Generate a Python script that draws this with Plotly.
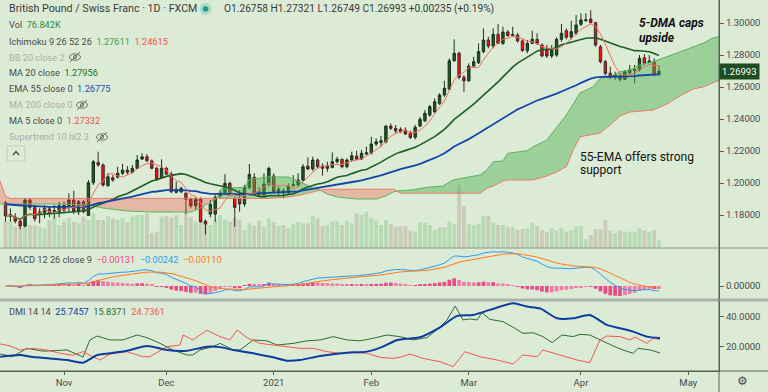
import numpy as np
import pandas as pd
import plotly.graph_objects as go

# ---------------- data ----------------
month_ticks = [12, 33, 55, 75, 95, 118, 140]
month_labels = ["Nov", "Dec", "2021", "Feb", "Mar", "Apr", "May"]

open_ = [1.1877, 1.1794, 1.1786, 1.1762, 1.1731, 1.1894, 1.1846, 1.1811, 1.1814, 1.1838,
         1.1822, 1.1823, 1.1861, 1.1858, 1.1894, 1.1821, 1.1883, 1.1798, 1.2002, 1.2129,
         1.2113, 1.1983, 1.2033, 1.2036, 1.2061, 1.2081, 1.2067, 1.2092, 1.2150, 1.2164,
         1.2138, 1.2092, 1.2033, 1.2092, 1.2056, 1.1942, 1.1946, 1.1936, 1.1898, 1.1858,
         1.1898, 1.1762, 1.1806, 1.1806, 1.1919, 1.1939, 1.1998, 1.1904, 1.1904, 1.1869,
         1.1973, 1.2036, 1.1946, 1.1925, 1.1994, 1.2044, 1.1939, 1.1952, 1.1939, 1.1984,
         1.1988, 1.2019, 1.2106, 1.2088, 1.2144, 1.2106, 1.2092, 1.2098, 1.2133, 1.2148,
         1.2102, 1.2144, 1.2169, 1.2150, 1.2181, 1.2186, 1.2244, 1.2254, 1.2258, 1.2356,
         1.2342, 1.2336, 1.2331, 1.2311, 1.2286, 1.2356, 1.2389, 1.2425, 1.2446, 1.2498,
         1.2550, 1.2586, 1.2764, 1.2811, 1.2661, 1.2639, 1.2731, 1.2752, 1.2821, 1.2894,
         1.2856, 1.2929, 1.2873, 1.2944, 1.2922, 1.2925, 1.2888, 1.2827, 1.2873, 1.2898,
         1.2863, 1.2831, 1.2794, 1.2800, 1.2898, 1.2952, 1.2911, 1.2936, 1.2992, 1.3015,
         1.3025, 1.3002, 1.2852, 1.2758, 1.2686, 1.2661, 1.2661, 1.2648, 1.2689, 1.2703,
         1.2706, 1.2783, 1.2754, 1.2758, 1.26758]
high_ = [1.1889, 1.1842, 1.1811, 1.1779, 1.1904, 1.1904, 1.1863, 1.1842, 1.1863, 1.1852,
         1.1863, 1.1883, 1.1883, 1.1936, 1.1952, 1.1894, 1.1894, 1.2019, 1.2144, 1.2196,
         1.2123, 1.2061, 1.2050, 1.2102, 1.2119, 1.2106, 1.2113, 1.2175, 1.2186, 1.2181,
         1.2148, 1.2102, 1.2148, 1.2102, 1.2071, 1.2008, 1.1977, 1.1942, 1.1911, 1.1911,
         1.1911, 1.1773, 1.1894, 1.1925, 1.1956, 1.2056, 1.2008, 1.1914, 1.1956, 1.1988,
         1.2119, 1.2061, 1.1977, 1.2061, 1.2102, 1.2061, 1.1977, 1.1967, 1.1998, 1.2050,
         1.2061, 1.2119, 1.2161, 1.2164, 1.2154, 1.2123, 1.2133, 1.2192, 1.2164, 1.2154,
         1.2154, 1.2196, 1.2202, 1.2206, 1.2227, 1.2289, 1.2279, 1.2294, 1.2363, 1.2373,
         1.2363, 1.2348, 1.2348, 1.2327, 1.2363, 1.2413, 1.2456, 1.2488, 1.2529, 1.2561,
         1.2639, 1.2779, 1.2898, 1.2821, 1.2675, 1.2748, 1.2789, 1.2873, 1.2967, 1.2914,
         1.2967, 1.2994, 1.2977, 1.2956, 1.2977, 1.2939, 1.2898, 1.2894, 1.2952, 1.2936,
         1.2873, 1.2863, 1.2863, 1.2911, 1.2994, 1.2967, 1.3014, 1.3050, 1.3061, 1.3061,
         1.3081, 1.3008, 1.2863, 1.2769, 1.2727, 1.2696, 1.2686, 1.2706, 1.2738, 1.2738,
         1.2800, 1.2806, 1.2800, 1.2779, 1.27321]
low_ = [1.1758, 1.1758, 1.1748, 1.1711, 1.1723, 1.1831, 1.1758, 1.1748, 1.1779, 1.1786,
        1.1779, 1.1786, 1.1811, 1.1821, 1.1806, 1.1800, 1.1811, 1.1794, 1.1988, 1.2102,
        1.1977, 1.1977, 1.2008, 1.2029, 1.2050, 1.2050, 1.2061, 1.2088, 1.2144, 1.2133,
        1.2086, 1.2014, 1.2029, 1.2050, 1.1936, 1.1936, 1.1936, 1.1806, 1.1842, 1.1831,
        1.1752, 1.1679, 1.1786, 1.1758, 1.1904, 1.1931, 1.1919, 1.1727, 1.1821, 1.1852,
        1.1961, 1.1925, 1.1914, 1.1914, 1.1977, 1.1936, 1.1914, 1.1904, 1.1925, 1.1977,
        1.1977, 1.2008, 1.2081, 1.2077, 1.2092, 1.2046, 1.2071, 1.2092, 1.2123, 1.2092,
        1.2092, 1.2133, 1.2144, 1.2144, 1.2175, 1.2179, 1.2231, 1.2227, 1.2248, 1.2331,
        1.2311, 1.2311, 1.2300, 1.2277, 1.2273, 1.2350, 1.2381, 1.2414, 1.2436, 1.2488,
        1.2539, 1.2581, 1.2758, 1.2648, 1.2571, 1.2633, 1.2727, 1.2744, 1.2811, 1.2842,
        1.2842, 1.2869, 1.2863, 1.2914, 1.2914, 1.2877, 1.2821, 1.2811, 1.2869, 1.2863,
        1.2786, 1.2781, 1.2781, 1.2789, 1.2883, 1.2898, 1.2898, 1.2925, 1.2981, 1.3008,
        1.2998, 1.2852, 1.2748, 1.2675, 1.2648, 1.2644, 1.2633, 1.2644, 1.2681, 1.2623,
        1.2696, 1.2738, 1.2748, 1.2669, 1.26749]
close_ = [1.1794, 1.1802, 1.1762, 1.1731, 1.1894, 1.1848, 1.1777, 1.1819, 1.1842, 1.1814,
          1.1828, 1.1858, 1.1831, 1.1894, 1.1823, 1.1883, 1.1821, 1.2002, 1.2133, 1.2113,
          1.1988, 1.2039, 1.2019, 1.2061, 1.2081, 1.2067, 1.2092, 1.2144, 1.2164, 1.2139,
          1.2092, 1.2023, 1.2092, 1.2056, 1.1946, 1.1961, 1.1967, 1.1898, 1.1858, 1.1898,
          1.1758, 1.1744, 1.1867, 1.1911, 1.1939, 1.1998, 1.1925, 1.1848, 1.1869, 1.1973,
          1.2054, 1.1939, 1.1925, 1.1994, 1.2092, 1.1946, 1.1961, 1.1936, 1.1981, 1.1991,
          1.2019, 1.2102, 1.2088, 1.2144, 1.2102, 1.2092, 1.2106, 1.2133, 1.2148, 1.2102,
          1.2144, 1.2171, 1.2150, 1.2186, 1.2189, 1.2244, 1.2258, 1.2264, 1.2356, 1.2342,
          1.2325, 1.2321, 1.2306, 1.2283, 1.2348, 1.2398, 1.2436, 1.2477, 1.2508, 1.2550,
          1.2592, 1.2764, 1.2811, 1.2661, 1.2639, 1.2731, 1.2758, 1.2821, 1.2894, 1.2856,
          1.2929, 1.2873, 1.2944, 1.2921, 1.2928, 1.2888, 1.2827, 1.2873, 1.2898, 1.2873,
          1.2794, 1.2794, 1.2836, 1.2898, 1.2936, 1.2911, 1.2946, 1.2988, 1.3019, 1.3020,
          1.3002, 1.2863, 1.2758, 1.2686, 1.2661, 1.2675, 1.2648, 1.2696, 1.2706, 1.2709,
          1.2779, 1.2748, 1.2763, 1.2675, 1.26993]
volume_k = [253, 250, 202, 192, 240, 221, 221, 204, 192, 269,
            300, 221, 253, 288, 253, 237, 300, 269, 336, 269,
            269, 307, 285, 269, 285, 243, 300, 317, 317, 333,
            144, 156, 300, 307, 295, 317, 221, 348, 300, 253,
            285, 253, 221, 269, 317, 276, 253, 285, 269, 173,
            237, 211, 262, 204, 285, 250, 211, 221, 192, 230,
            250, 237, 237, 307, 285, 211, 221, 253, 253, 221,
            262, 237, 333, 317, 348, 285, 262, 221, 269, 230,
            204, 211, 211, 166, 156, 243, 243, 221, 173, 199,
            199, 253, 230, 605, 403, 230, 221, 230, 307, 307,
            243, 221, 221, 199, 199, 173, 180, 189, 237, 211,
            173, 156, 189, 166, 189, 156, 173, 204, 211, 84,
            125, 180, 180, 269, 166, 141, 166, 156, 156, 156,
            189, 166, 156, 173, 76.842]

# Ichimoku cloud boundaries (bar position, leading span A, leading span B)
cloud_x = [-1.2, 0, 1, 10, 17, 20, 25, 30, 38, 40, 42, 43.3,
           44.3, 49, 50, 54, 58, 60.4, 63, 64.5,
           66, 68, 72, 76, 78, 79.5, 80.3,
           81, 83, 86.4, 89.7, 91.8, 94.6, 97.3, 98.7, 100, 102, 103, 106.9, 108.2,
           111, 113, 115, 116.4, 117.8, 120.5, 121.9, 124, 126, 128, 130, 132.8,
           135.6, 138.3, 141, 143, 145, 147]
span_a = [1.1869, 1.1869, 1.1869, 1.1869, 1.1863, 1.1844, 1.1825, 1.1819, 1.1819, 1.1844, 1.1881, 1.1904,
          1.1967, 1.1973, 1.2023, 1.2038, 1.2038, 1.2008, 1.1969, 1.1956,
          1.1931, 1.1913, 1.1900, 1.1900, 1.1919, 1.1944, 1.1950,
          1.1953, 1.1956, 1.1973, 1.1981, 1.2019, 1.2036, 1.2050, 1.2081, 1.2133, 1.2138, 1.2186, 1.2202, 1.2227,
          1.2269, 1.2344, 1.2425, 1.2494, 1.2563, 1.2602, 1.2654, 1.2664, 1.2696, 1.2706, 1.2738, 1.2758,
          1.2789, 1.2819, 1.2852, 1.2873, 1.2906, 1.2919]
span_b = [1.2019, 1.1919, 1.1904, 1.1904, 1.1904, 1.1904, 1.1904, 1.1904, 1.1904, 1.1904, 1.1904, 1.1904,
          1.1904, 1.1904, 1.1904, 1.1904, 1.1913, 1.1925, 1.1944, 1.1956,
          1.1961, 1.1961, 1.1961, 1.1961, 1.1961, 1.1961, 1.1950,
          1.1936, 1.1936, 1.1936, 1.1936, 1.1936, 1.1936, 1.1936, 1.1967, 1.1981, 1.2013, 1.2019, 1.2019, 1.2019,
          1.2044, 1.2069, 1.2102, 1.2206, 1.2289, 1.2306, 1.2313, 1.2363, 1.2419, 1.2444, 1.2450, 1.2456,
          1.2494, 1.2544, 1.2588, 1.2600, 1.2625, 1.2650]

# DMI 14 14 lines (bar position, value)
adx_x = [-1.1, 3.0, 5.6, 9.1, 12.6, 15.9, 18.8, 21.4, 24.9, 29.0, 33.1, 37.2, 41.3, 44.0, 46.7,
         50.8, 54.9, 57.7, 60.4, 64.5, 70.0, 74.1, 77.4, 80.3, 85.0, 89.1, 92.6, 95.9, 99.3,
         104.1, 106.9, 109.6, 113.1, 116.4, 119.8, 123.3, 126.0, 128.7, 131.5, 134.2]
adx_v = [13.3, 14.5, 13.1, 12.2, 11.1, 9.3, 14.5, 15.6, 17.3, 20.5, 17.8, 17.3, 20.0, 19.7, 17.8,
         15.6, 12.9, 10.7, 11.1, 13.8, 16.0, 16.7, 20.0, 24.5, 26.3, 32.9, 40.5, 41.1, 44.5,
         48.9, 46.7, 45.5, 38.9, 38.9, 41.1, 34.5, 32.3, 30.0, 26.7, 25.7457]
pdi_x = [-1.1, 1.5, 4.4, 7.7, 12.6, 14.7, 15.9, 17.3, 18.8, 21.4, 24.1, 27.0, 29.0, 31.7, 34.3,
         37.2, 38.4, 39.9, 42.5, 44.0, 46.7, 48.1, 50.8, 53.6, 55.7, 59.0, 61.8, 64.5, 67.2,
         70.0, 72.7, 75.4, 78.2, 80.9, 83.6, 86.4, 89.1, 90.5, 92.2, 93.8, 95.2, 96.7, 97.7,
         99.3, 102.0, 104.1, 106.1, 108.2, 110.2, 112.1, 114.1, 116.4, 117.8, 119.8, 121.9,
         124.6, 126.6, 128.7, 129.7, 132.2, 134.2]
pdi_v = [15.1, 13.5, 18.9, 17.0, 17.8, 14.5, 13.1, 24.5, 27.1, 24.5, 24.5, 27.8, 26.0, 22.2, 17.8,
         14.5, 14.5, 17.8, 20.0, 22.2, 17.8, 17.8, 24.5, 23.9, 21.1, 22.2, 23.9, 24.5, 26.7,
         24.5, 23.9, 25.6, 27.8, 26.7, 24.5, 26.0, 32.9, 37.8, 47.1, 37.8, 38.5, 37.8, 42.7,
         38.2, 36.7, 32.9, 28.9, 29.3, 26.7, 22.7, 27.8, 26.7, 28.2, 27.8, 24.5,
         20.5, 17.8, 15.6, 18.9, 17.8, 15.8371]
mdi_x = [-1.1, 0.9, 3.0, 5.6, 8.5, 11.2, 13.8, 15.9, 17.9, 19.4, 21.4, 24.9, 28.2, 29.6, 33.1,
         35.8, 36.4, 38.4, 41.3, 44.0, 46.0, 47.5, 49.5, 52.2, 54.9, 57.7, 60.4, 63.1, 65.9,
         68.6, 71.3, 74.1, 76.8, 79.5, 80.9, 82.9, 85.6, 89.1, 91.8, 94.2, 97.3, 100.8, 104.1,
         106.1, 109.0, 110.2, 113.7, 117.2, 119.8, 121.9, 123.3, 126.0, 128.0, 129.1, 131.5,
         132.8, 134.2]
mdi_v = [21.8, 20.5, 17.8, 18.9, 17.8, 15.6, 14.3, 16.7, 13.3, 11.1, 15.1, 16.7, 13.3, 13.3, 20.0,
         21.1, 27.8, 24.5, 30.9, 26.7, 24.5, 31.1, 26.0, 22.2, 21.1, 20.0, 18.9, 18.9, 16.7,
         15.6, 16.0, 15.6, 12.9, 12.2, 13.0, 15.1, 12.2, 10.0, 6.7, 16.7, 13.3, 11.1, 8.5,
         14.5, 13.3, 17.8, 14.5, 11.1, 9.3, 24.5, 27.1, 26.7, 24.5, 26.4, 22.2,
         25.6, 24.7361]

ema55_start = 1.1870   # EMA 55 level read at the left edge of the chart
price_ticks = [1.18, 1.20, 1.22, 1.24, 1.26, 1.28, 1.30]
last_price = 1.26993

# ---------------- layout helpers ----------------
PLOT_W, PLOT_H = 719, 371
def px(x):
    return x / PLOT_W
def py(y):
    return 1 - y / PLOT_H

BG = "#dcebd6"
FONT = "Roboto"

bars = np.arange(len(close_))
c = pd.Series(close_)

ma5 = c.rolling(5, min_periods=1).mean()
ma20 = c.rolling(20, min_periods=1).mean()
ema55 = []
e = ema55_start
for v in close_:
    e = e + (2 / 56) * (v - e)
    ema55.append(e)

ema12 = c.ewm(span=12, adjust=False).mean()
ema26 = c.ewm(span=26, adjust=False).mean()
macd = ema12 - ema26
signal = macd.ewm(span=9, adjust=False).mean()
hist = macd - signal

fig = go.Figure()

# volume (base axis of main pane)
vol_colors = ["rgba(76,175,80,0.26)" if cl >= o else "rgba(175,165,140,0.42)"
              for o, cl in zip(open_, close_)]
fig.add_trace(go.Bar(x=bars, y=volume_k, marker=dict(color=vol_colors, line=dict(width=0)),
                     width=0.8, xaxis="x3", yaxis="y", hoverinfo="skip"))

# ichimoku cloud
cx = np.array(cloud_x); sa = np.array(span_a); sb = np.array(span_b)
d = sa - sb
segments = []
cur = [0]
for i in range(1, len(cx)):
    cur.append(i)
    if abs(d[i]) < 1e-9 and i < len(cx) - 1:
        segments.append(cur)
        cur = [i]
segments.append(cur)
for seg in segments:
    seg = np.array(seg)
    green = np.sum(d[seg]) > 0
    fill = "rgba(76,175,80,0.45)" if green else "rgba(244,67,54,0.30)"
    xs = list(cx[seg]) + list(cx[seg][::-1])
    ys = list(sa[seg]) + list(sb[seg][::-1])
    fig.add_trace(go.Scatter(x=xs, y=ys, fill="toself", fillcolor=fill, mode="lines",
                             line=dict(width=0), xaxis="x3", yaxis="y4", hoverinfo="skip"))
fig.add_trace(go.Scatter(x=cloud_x, y=span_a, mode="lines", line=dict(color="#5fb35f", width=1),
                         xaxis="x3", yaxis="y4", hoverinfo="skip"))
fig.add_trace(go.Scatter(x=cloud_x, y=span_b, mode="lines", line=dict(color="#ee7b6c", width=1),
                         xaxis="x3", yaxis="y4", hoverinfo="skip"))

# moving averages
fig.add_trace(go.Scatter(x=bars, y=ma20, mode="lines", line=dict(color="#1f5d22", width=1.6),
                         xaxis="x3", yaxis="y4", hoverinfo="skip"))
fig.add_trace(go.Scatter(x=bars, y=ema55, mode="lines", line=dict(color="#1544a8", width=1.8),
                         xaxis="x3", yaxis="y4", hoverinfo="skip"))

# candles
fig.add_trace(go.Candlestick(x=bars, open=open_, high=high_, low=low_, close=close_,
                             increasing=dict(line=dict(color="#16331a", width=1), fillcolor="#255226"),
                             decreasing=dict(line=dict(color="#402626", width=1), fillcolor="#ff1010"),
                             xaxis="x3", yaxis="y4", hoverinfo="skip"))
fig.add_trace(go.Scatter(x=bars, y=ma5, mode="lines", line=dict(color="#f2705f", width=1),
                         xaxis="x3", yaxis="y4", hoverinfo="skip"))

# MACD
hcol = []
prev = 0.0
for hv in hist:
    if hv >= 0:
        hcol.append("#ec4a86" if hv >= prev else "#f37ca6")
    else:
        hcol.append("#ec4a86" if hv <= prev else "#f37ca6")
    prev = hv
fig.add_trace(go.Bar(x=bars, y=hist, marker=dict(color=hcol, line=dict(width=0)), width=0.75,
                     xaxis="x2", yaxis="y2", hoverinfo="skip"))
fig.add_trace(go.Scatter(x=bars, y=macd, mode="lines", line=dict(color="#2f9bf0", width=1),
                         xaxis="x2", yaxis="y2", hoverinfo="skip"))
fig.add_trace(go.Scatter(x=bars, y=signal, mode="lines", line=dict(color="#ff7a1a", width=1),
                         xaxis="x2", yaxis="y2", hoverinfo="skip"))

# DMI
fig.add_trace(go.Scatter(x=pdi_x, y=pdi_v, mode="lines", line=dict(color="#2e6b2e", width=1),
                         xaxis="x", yaxis="y3", hoverinfo="skip"))
fig.add_trace(go.Scatter(x=mdi_x, y=mdi_v, mode="lines", line=dict(color="#f05a4e", width=1),
                         xaxis="x", yaxis="y3", hoverinfo="skip"))
fig.add_trace(go.Scatter(x=adx_x, y=adx_v, mode="lines",
                         line=dict(color="#0d3b9e", width=2, shape="spline", smoothing=0.6),
                         xaxis="x", yaxis="y3", hoverinfo="skip"))

# ranges
xr = [-1.13, 146.3]
top_val = float(max(macd.max(), signal.max()))
k = 34.3 / top_val
macd_range = [-14 / k, 38 / k]

main_dom = [py(248), 1]
macd_dom = [py(300), py(248)]
dmi_dom = [0, py(300)]
tickfont = dict(family=FONT, size=9.5, color="#4a4a4a")

fig.update_layout(
    width=768, height=392,
    margin=dict(l=0, r=49, t=0, b=21),
    paper_bgcolor=BG, plot_bgcolor=BG,
    showlegend=False,
    font=dict(family=FONT, size=10, color="#444"),
    xaxis=dict(domain=[0, 1], anchor="y3", range=xr, tickvals=month_ticks, ticktext=month_labels,
               showgrid=False, zeroline=False, showline=True, linecolor="#5a5f59", linewidth=1,
               ticks="outside", ticklen=3, tickcolor="#5a5f59", tickfont=tickfont),
    xaxis2=dict(domain=[0, 1], anchor="y2", matches="x", range=xr, showticklabels=False,
                showgrid=False, zeroline=False, showline=False),
    xaxis3=dict(domain=[0, 1], anchor="y", matches="x", range=xr, showticklabels=False,
                showgrid=False, zeroline=False, showline=False, rangeslider=dict(visible=False)),
    yaxis=dict(domain=main_dom, anchor="x3", range=[0, 2380], visible=False, fixedrange=True),
    yaxis4=dict(overlaying="y", anchor="x3", side="right", range=[1.1594, 1.3144],
                tickvals=price_ticks, tickformat=".5f", showgrid=False, zeroline=False,
                showline=True, linecolor="#5a5f59", ticks="outside", ticklen=4, tickcolor="#5a5f59",
                tickfont=tickfont),
    yaxis2=dict(domain=macd_dom, anchor="x2", side="right", range=macd_range, tickvals=[0],
                tickformat=".5f", showgrid=False, zeroline=False, showline=True, linecolor="#5a5f59",
                ticks="outside", ticklen=4, tickcolor="#5a5f59", tickfont=tickfont),
    yaxis3=dict(domain=dmi_dom, anchor="x", side="right", range=[3.8, 51.1], tickvals=[20, 40],
                tickformat=".4f", showgrid=False, zeroline=False, showline=True, linecolor="#5a5f59",
                ticks="outside", ticklen=4, tickcolor="#5a5f59", tickfont=tickfont),
)

shapes = []
full = 768 / PLOT_W
shapes.append(dict(type="line", xref="paper", yref="paper", x0=0, x1=full, y0=py(248), y1=py(248),
                   line=dict(color="#8e968c", width=1)))
shapes.append(dict(type="line", xref="paper", yref="paper", x0=0, x1=full, y0=py(300), y1=py(300),
                   line=dict(color="#aab3a7", width=3)))
shapes.append(dict(type="line", xref="paper", yref="paper", x0=0, x1=full, y0=py(371), y1=py(371),
                   line=dict(color="#5a5f59", width=1)))
shapes.append(dict(type="line", xref="paper", yref="paper", x0=1, x1=1, y0=py(392), y1=1,
                   line=dict(color="#5a5f59", width=1)))
# title dot
shapes.append(dict(type="circle", xref="paper", yref="paper", x0=px(199.5), x1=px(211.5),
                   y0=py(15), y1=py(3), fillcolor="rgba(38,166,154,0.25)", line=dict(width=0)))
shapes.append(dict(type="circle", xref="paper", yref="paper", x0=px(202.7), x1=px(208.3),
                   y0=py(11.8), y1=py(6.2), fillcolor="#1f9e8f", line=dict(width=0)))
# hidden-indicator eye icons
for ex, ey in [(75, 57), (82, 105), (102, 137)]:
    shapes.append(dict(type="circle", xref="paper", yref="paper", x0=px(ex - 5.5), x1=px(ex + 5.5),
                       y0=py(ey + 3.2), y1=py(ey - 3.2), line=dict(color="#6d726b", width=1)))
    shapes.append(dict(type="circle", xref="paper", yref="paper", x0=px(ex - 1.6), x1=px(ex + 1.6),
                       y0=py(ey + 1.6), y1=py(ey - 1.6), line=dict(color="#6d726b", width=1)))
    shapes.append(dict(type="line", xref="paper", yref="paper", x0=px(ex - 5), x1=px(ex + 5),
                       y0=py(ey + 5), y1=py(ey - 5), line=dict(color="#6d726b", width=1)))
# collapse button
shapes.append(dict(type="rect", xref="paper", yref="paper", x0=px(7), x1=px(25), y0=py(161), y1=py(146),
                   line=dict(color="#c3cdc0", width=1)))
shapes.append(dict(type="path", xref="paper", yref="paper",
                   path="M {} {} L {} {} L {} {}".format(px(13), py(155), px(16), py(151.5), px(19), py(155)),
                   line=dict(color="#444", width=1.2)))
fig.update_layout(shapes=shapes)

ann = []
def text(x, y, t, size=9.2, color="#4a4a4a", anchor="left", **kw):
    ann.append(dict(xref="paper", yref="paper", x=px(x), y=py(y), text=t, showarrow=False,
                    xanchor=anchor, yanchor="middle", font=dict(family=FONT, size=size, color=color), **kw))

text(6.7, 9, "British Pound / Swiss Franc · 1D · FXCM", size=10.7, color="#3a3a3a")
text(222, 9, "O1.26758 H1.27321 L1.26749 C1.26993 +0.00235 (+0.19%)", size=10.2, color="#3a3a3a")
text(6.7, 25, 'Vol  <span style="color:#2e8b3e">76.842K</span>')
text(6.7, 41, 'Ichimoku 9 26 52 26  <span style="color:#43a047">1.27611</span>  <span style="color:#ef5350">1.24615</span>')
text(6.7, 57, "BB 20 close 2", color="#a9b0a6")
text(6.7, 72.7, 'MA 20 close  <span style="color:#1f6b25">1.27956</span>')
text(6.7, 89, 'EMA 55 close 0  <span style="color:#1e4fb5">1.26775</span>')
text(6.7, 105, "MA 200 close 0", color="#a9b0a6")
text(6.7, 120.7, 'MA 5 close 0  <span style="color:#f0524a">1.27332</span>')
text(6.7, 136.7, "Supertrend 10 hl2 3", color="#a9b0a6")
text(6.7, 259, 'MACD 12 26 close 9  <span style="color:#ec4a86">−0.00131</span>  '
               '<span style="color:#2f9bf0">−0.00242</span>  <span style="color:#ff7a1a">−0.00110</span>')
text(6.7, 311, 'DMI 14 14  <span style="color:#0d3b9e">25.7457</span>  '
               '<span style="color:#2e6b2e">15.8371</span>  <span style="color:#f05a4e">24.7361</span>')
text(636.5, 23.5, "<b><i>5-DMA caps</i></b>", size=12, color="#111")
text(636.5, 37.5, "<b><i>upside</i></b>", size=12, color="#111")
text(578, 157, "55-EMA offers strong", size=12, color="#111")
text(578, 170, "support", size=12, color="#111")
text(742, 381, "⚙", size=12, color="#4a4a4a", anchor="center")
ann.append(dict(xref="paper", yref="y4", x=1, y=last_price, text="1.26993", showarrow=False,
                xanchor="left", yanchor="middle", bgcolor="#1f4d20", borderpad=2,
                font=dict(family=FONT, size=9.5, color="#ffffff")))
fig.update_layout(annotations=ann)

fig.write_html("out.html", config={"displayModeBar": False},
               post_script="document.body.style.margin='0';")
